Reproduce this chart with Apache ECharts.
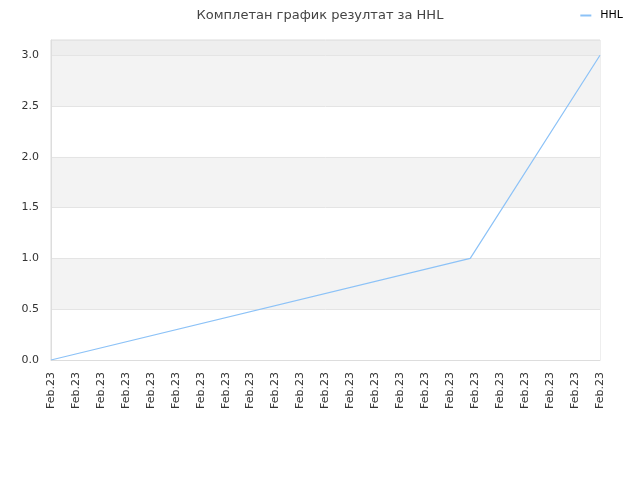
<!DOCTYPE html>
<html>
<head>
<meta charset="utf-8">
<script src="https://cdn.jsdelivr.net/npm/echarts@6/dist/echarts.min.js"></script>
<style>
  html, body { margin: 0; padding: 0; background: #fff; }
  #main { width: 640px; height: 480px; }
</style>
</head>
<body>
<div id="main"></div>
<script>
// tick labels along the x axis (all the same in the source)
var xLabels = ['Feb.23', 'Feb.23', 'Feb.23', 'Feb.23', 'Feb.23', 'Feb.23', 'Feb.23', 'Feb.23',
    'Feb.23', 'Feb.23', 'Feb.23', 'Feb.23', 'Feb.23', 'Feb.23', 'Feb.23', 'Feb.23',
    'Feb.23', 'Feb.23', 'Feb.23', 'Feb.23', 'Feb.23', 'Feb.23', 'Feb.23'];

// points of the HHL line, x measured in label steps
var hhlX = [0, 16.8, 22];
var hhlY = [0, 1, 3];

var seriesName = 'HHL';

var hhlData = [];
for (var i = 0; i < hhlX.length; i++) {
    hhlData.push([hhlX[i], hhlY[i]]);
}

var myChart = echarts.init(document.getElementById('main'));

var option = {
    backgroundColor: '#fff',
    animation: false,
    textStyle: { fontFamily: 'DejaVu Sans' },
    title: {
        text: 'Комплетан график резултат за HHL',
        left: 'center',
        top: 4,
        textStyle: {
            fontSize: 13,
            fontWeight: 'normal',
            color: '#444',
            fontFamily: 'DejaVu Sans'
        }
    },
    legend: {
        data: [seriesName],
        right: 12,
        top: 5,
        icon: 'rect',
        itemWidth: 11,
        itemHeight: 2,
        itemGap: 8,
        textStyle: { fontSize: 11, color: '#000', fontFamily: 'DejaVu Sans', padding: [0, 0, 0, 4] }
    },
    grid: {
        left: 51,
        right: 40,
        top: 40,
        bottom: 120,
        show: true,
        borderColor: '#ddd',
        borderWidth: 1,
        containLabel: false
    },
    xAxis: {
        type: 'value',
        min: 0,
        max: xLabels.length - 1,
        interval: 1,
        axisLine: { show: true, lineStyle: { color: '#ddd' } },
        axisTick: { show: false },
        splitLine: { show: false },
        axisLabel: {
            rotate: 90,
            margin: 12,
            fontSize: 11,
            color: '#333',
            formatter: function (v) { return xLabels[Math.round(v)]; }
        }
    },
    yAxis: {
        type: 'value',
        min: 0,
        max: 3.15,
        interval: 0.5,
        axisLine: { show: true, lineStyle: { color: '#ddd' } },
        axisTick: { show: false },
        axisLabel: {
            fontSize: 11,
            color: '#333',
            margin: 12,
            showMaxLabel: false,
            formatter: function (v) { return v.toFixed(1); }
        },
        splitLine: { show: true, lineStyle: { color: '#e4e4e4' } },
        splitArea: {
            show: true,
            areaStyle: {
                color: ['#ffffff', '#f3f3f3', '#ffffff', '#f3f3f3', '#ffffff', '#f3f3f3', '#eeeeee']
            }
        }
    },
    series: [
        {
            name: seriesName,
            type: 'line',
            data: hhlData,
            showSymbol: false,
            symbol: 'none',
            color: '#8cc2f7',
            lineStyle: { width: 1.2, color: '#8cc2f7' }
        }
    ]
};

myChart.setOption(option);
</script>
</body>
</html>
